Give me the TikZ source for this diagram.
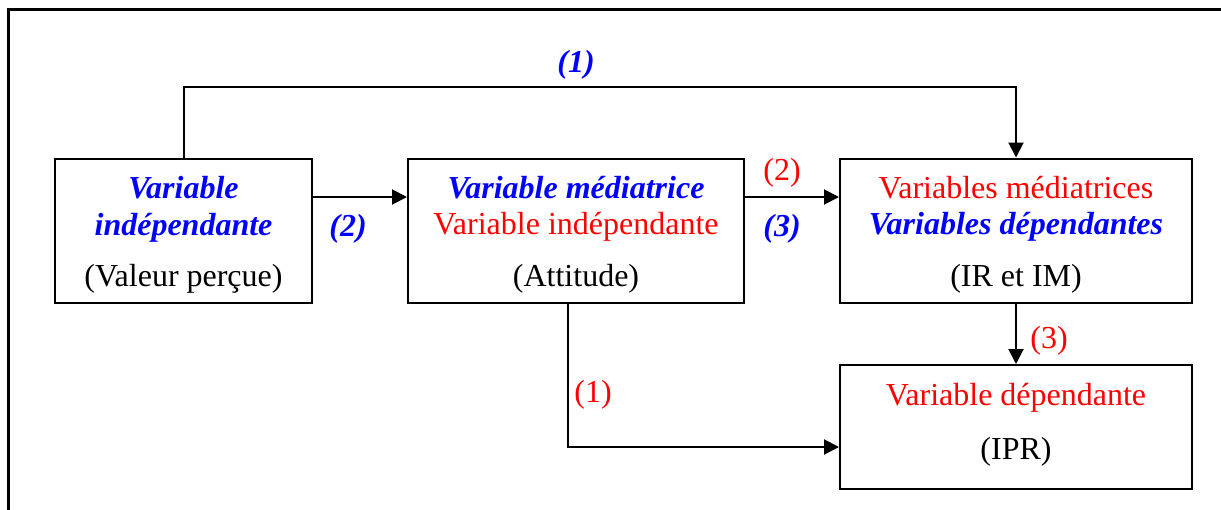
\documentclass[tikz,border=0pt]{standalone}
\usepackage{fontspec}
\setmainfont{Liberation Serif}
\usetikzlibrary{arrows.meta}
\definecolor{pblue}{RGB}{0,0,255}
\definecolor{pred}{RGB}{255,0,0}
\begin{document}
\begin{tikzpicture}[x=0.5pt,y=-0.5pt,
  box/.style={draw=black,line width=1pt,rectangle,inner sep=0pt,minimum height=72pt},
  txt/.style={anchor=base,inner sep=0pt,font=\fontsize{16}{19}\selectfont},
  bi/.style={txt,font=\fontsize{16}{19}\selectfont\bfseries\itshape,text=pblue},
  rd/.style={txt,text=pred},
  arr/.style={draw=black,line width=1pt,-{Triangle[length=7.5pt,width=7.5pt]}}]
\useasboundingbox (0,0) rectangle (1221,509);
\clip (0,0) rectangle (1221,509);
% outer frame (cut off right and bottom)
\draw[line width=1.4pt] (8.7,560) -- (8.7,9.5) -- (1260,9.5);
% boxes
\node[box,minimum width=128.5pt] (A) at (183.5,230.5) {};
\node[box,minimum width=168pt] (B) at (576,230.5) {};
\node[box,minimum width=176pt] (C) at (1016,230.5) {};
\node[box,minimum width=176pt,minimum height=62pt] (D) at (1016,427) {};
% texts box A
\node[bi] (A1) at (183.5,198) {Variable};
\node[bi] (A2) at (183.5,235) {indépendante};
\node[txt] (A3) at (183.5,286) {(Valeur perçue)};
% box B
\node[bi] (B1) at (576,198) {Variable médiatrice};
\node[rd] (B2) at (576,234) {Variable indépendante};
\node[txt] (B3) at (576,286) {(Attitude)};
% box C
\node[rd] (C1) at (1016,198) {Variables médiatrices};
\node[bi] (C2) at (1016,234) {Variables dépendantes};
\node[txt] (C3) at (1016,286) {(IR et IM)};
% box D
\node[rd] (D1) at (1016,405) {Variable dépendante};
\node[txt] (D2) at (1016,459) {(IPR)};
% helper coordinates
\coordinate (ab) at (0,197);
\coordinate (top) at (0,87);
\coordinate (bd) at (568,447);
% connectors
\draw[arr] (A.east |- ab) -- (B.west |- ab);
\draw[arr] (B.east |- ab) -- (C.west |- ab);
\draw[arr] (A.north) -- (A.north |- top) -| (C.north);
\draw[arr] (B.south -| bd) -- (bd) -- (D.west |- bd);
\draw[arr] (C.south) -- (D.north);
% labels
\node[bi] (L1) at (576,72) {(1)};
\node[bi] (L2) at (348,236) {(2)};
\node[rd] (L3) at (782,180) {(2)};
\node[bi] (L4) at (782,236) {(3)};
\node[rd] (L5) at (593,402) {(1)};
\node[rd] (L6) at (1049,348) {(3)};
\end{tikzpicture}
\end{document}
